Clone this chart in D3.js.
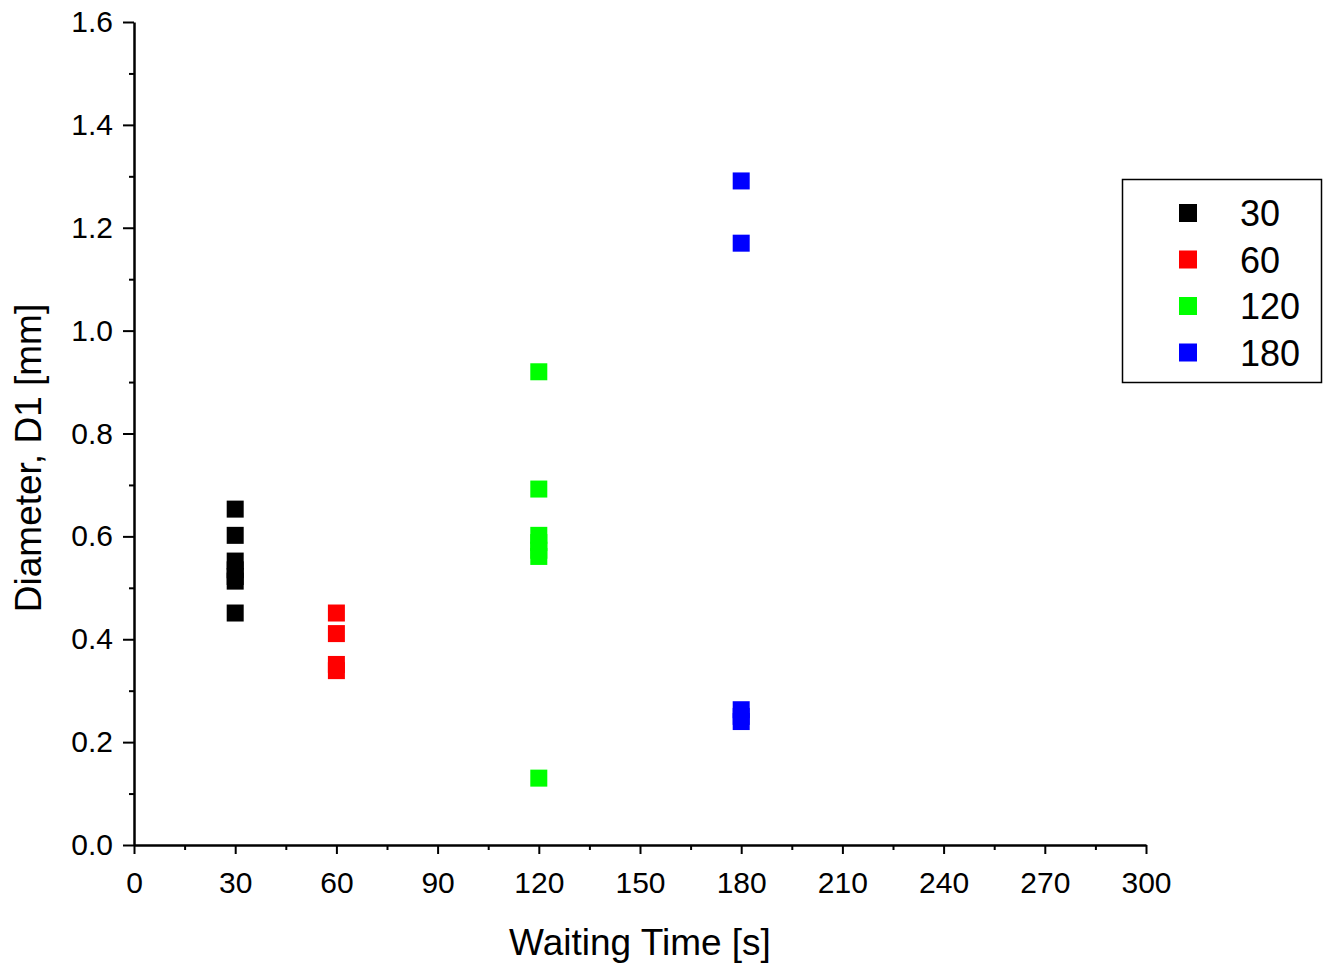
<!DOCTYPE html>
<html>
<head>
<meta charset="utf-8">
<script src="https://cdn.jsdelivr.net/npm/d3@7"></script>
<style>
  body { margin: 0; background: #fff; }
  svg text { font-family: Arial, "Liberation Sans", sans-serif; fill: #000; }
</style>
</head>
<body>
<svg id="chart" width="1323" height="965"></svg>
<script>
// series values (x = waiting time, y = D1 diameter)
var seriesNames = ["30", "60", "120", "180"];
var seriesColors = ["#000000", "#ff0000", "#00ff00", "#0000ff"];
var x30 = [30, 30, 30, 30, 30, 30, 30];
var y30 = [0.653, 0.602, 0.552, 0.535, 0.522, 0.513, 0.451];
var x60 = [60, 60, 60, 60];
var y60 = [0.451, 0.411, 0.351, 0.339];
var x120 = [120, 120, 120, 120, 120, 120, 120];
var y120 = [0.920, 0.692, 0.602, 0.588, 0.573, 0.561, 0.130];
var x180 = [180, 180, 180, 180, 180];
var y180 = [1.291, 1.170, 0.263, 0.250, 0.240];
var xTicks = [0, 30, 60, 90, 120, 150, 180, 210, 240, 270, 300];
var yTicks = [0.0, 0.2, 0.4, 0.6, 0.8, 1.0, 1.2, 1.4, 1.6];

var series = [
  {name: seriesNames[0], color: seriesColors[0], xs: x30, ys: y30},
  {name: seriesNames[1], color: seriesColors[1], xs: x60, ys: y60},
  {name: seriesNames[2], color: seriesColors[2], xs: x120, ys: y120},
  {name: seriesNames[3], color: seriesColors[3], xs: x180, ys: y180}
];

var svg = d3.select("#chart"),
    margin = {top: 22, right: 177, bottom: 120, left: 134},
    width = 1323 - margin.left - margin.right,
    height = 965 - margin.top - margin.bottom,
    g = svg.append("g").attr("transform", "translate(" + margin.left + "," + margin.top + ")");

var x = d3.scaleLinear().domain([0, 300]).range([0, width]);
var y = d3.scaleLinear().domain([0, 1.6]).range([height, 0]);

// minor ticks first
g.append("g")
    .attr("transform", "translate(0," + height + ")")
    .call(d3.axisBottom(x).tickValues(d3.range(15, 300, 30)).tickSize(5).tickFormat(""))
    .call(function(a) { a.select(".domain").remove(); });
g.append("g")
    .call(d3.axisLeft(y).tickValues(d3.range(1, 16, 2).map(function(d) { return d / 10; })).tickSize(5).tickFormat(""))
    .call(function(a) { a.select(".domain").remove(); });

var xAxis = g.append("g")
    .attr("transform", "translate(0," + height + ")")
    .call(d3.axisBottom(x).tickValues(xTicks).tickSize(9).tickSizeOuter(0).tickPadding(18).tickFormat(d3.format("d")));
var yAxis = g.append("g")
    .call(d3.axisLeft(y).tickValues(yTicks).tickSize(11).tickSizeOuter(0).tickPadding(10).tickFormat(d3.format(".1f")));

[xAxis, yAxis].forEach(function(a) {
  a.selectAll("path, line").attr("stroke", "#000").attr("stroke-width", 2.5);
  a.selectAll("text").style("font-size", "30px").attr("fill", "#000");
});
g.selectAll(".tick line").attr("stroke", "#000").attr("stroke-width", 2);

// axis titles
svg.append("text")
    .attr("x", 640)
    .attr("y", 955)
    .attr("text-anchor", "middle")
    .style("font-size", "37px")
    .text("Waiting Time [s]");
svg.append("text")
    .attr("transform", "translate(41,458) rotate(-90)")
    .attr("text-anchor", "middle")
    .style("font-size", "37px")
    .text("Diameter, D1 [mm]");

// points
var sz = 17;
series.forEach(function(s) {
  g.selectAll(null)
    .data(s.ys.map(function(v, i) { return [s.xs[i], v]; }))
    .enter().append("rect")
      .attr("x", function(d) { return x(d[0]) - sz / 2; })
      .attr("y", function(d) { return y(d[1]) - sz / 2; })
      .attr("width", sz)
      .attr("height", sz)
      .attr("fill", s.color);
});

// legend
var lg = svg.append("g").attr("transform", "translate(1122,179)");
lg.append("rect")
    .attr("x", 0.5).attr("y", 0.5)
    .attr("width", 199).attr("height", 203)
    .attr("fill", "#fff").attr("stroke", "#000").attr("stroke-width", 1.5);
series.forEach(function(s, i) {
  var row = lg.append("g").attr("transform", "translate(0," + (34 + i * 46.5) + ")");
  row.append("rect")
      .attr("x", 57).attr("y", -9)
      .attr("width", 18).attr("height", 18)
      .attr("fill", s.color);
  row.append("text")
      .attr("x", 118)
      .attr("y", 13)
      .style("font-size", "36px")
      .text(s.name);
});
</script>
</body>
</html>
